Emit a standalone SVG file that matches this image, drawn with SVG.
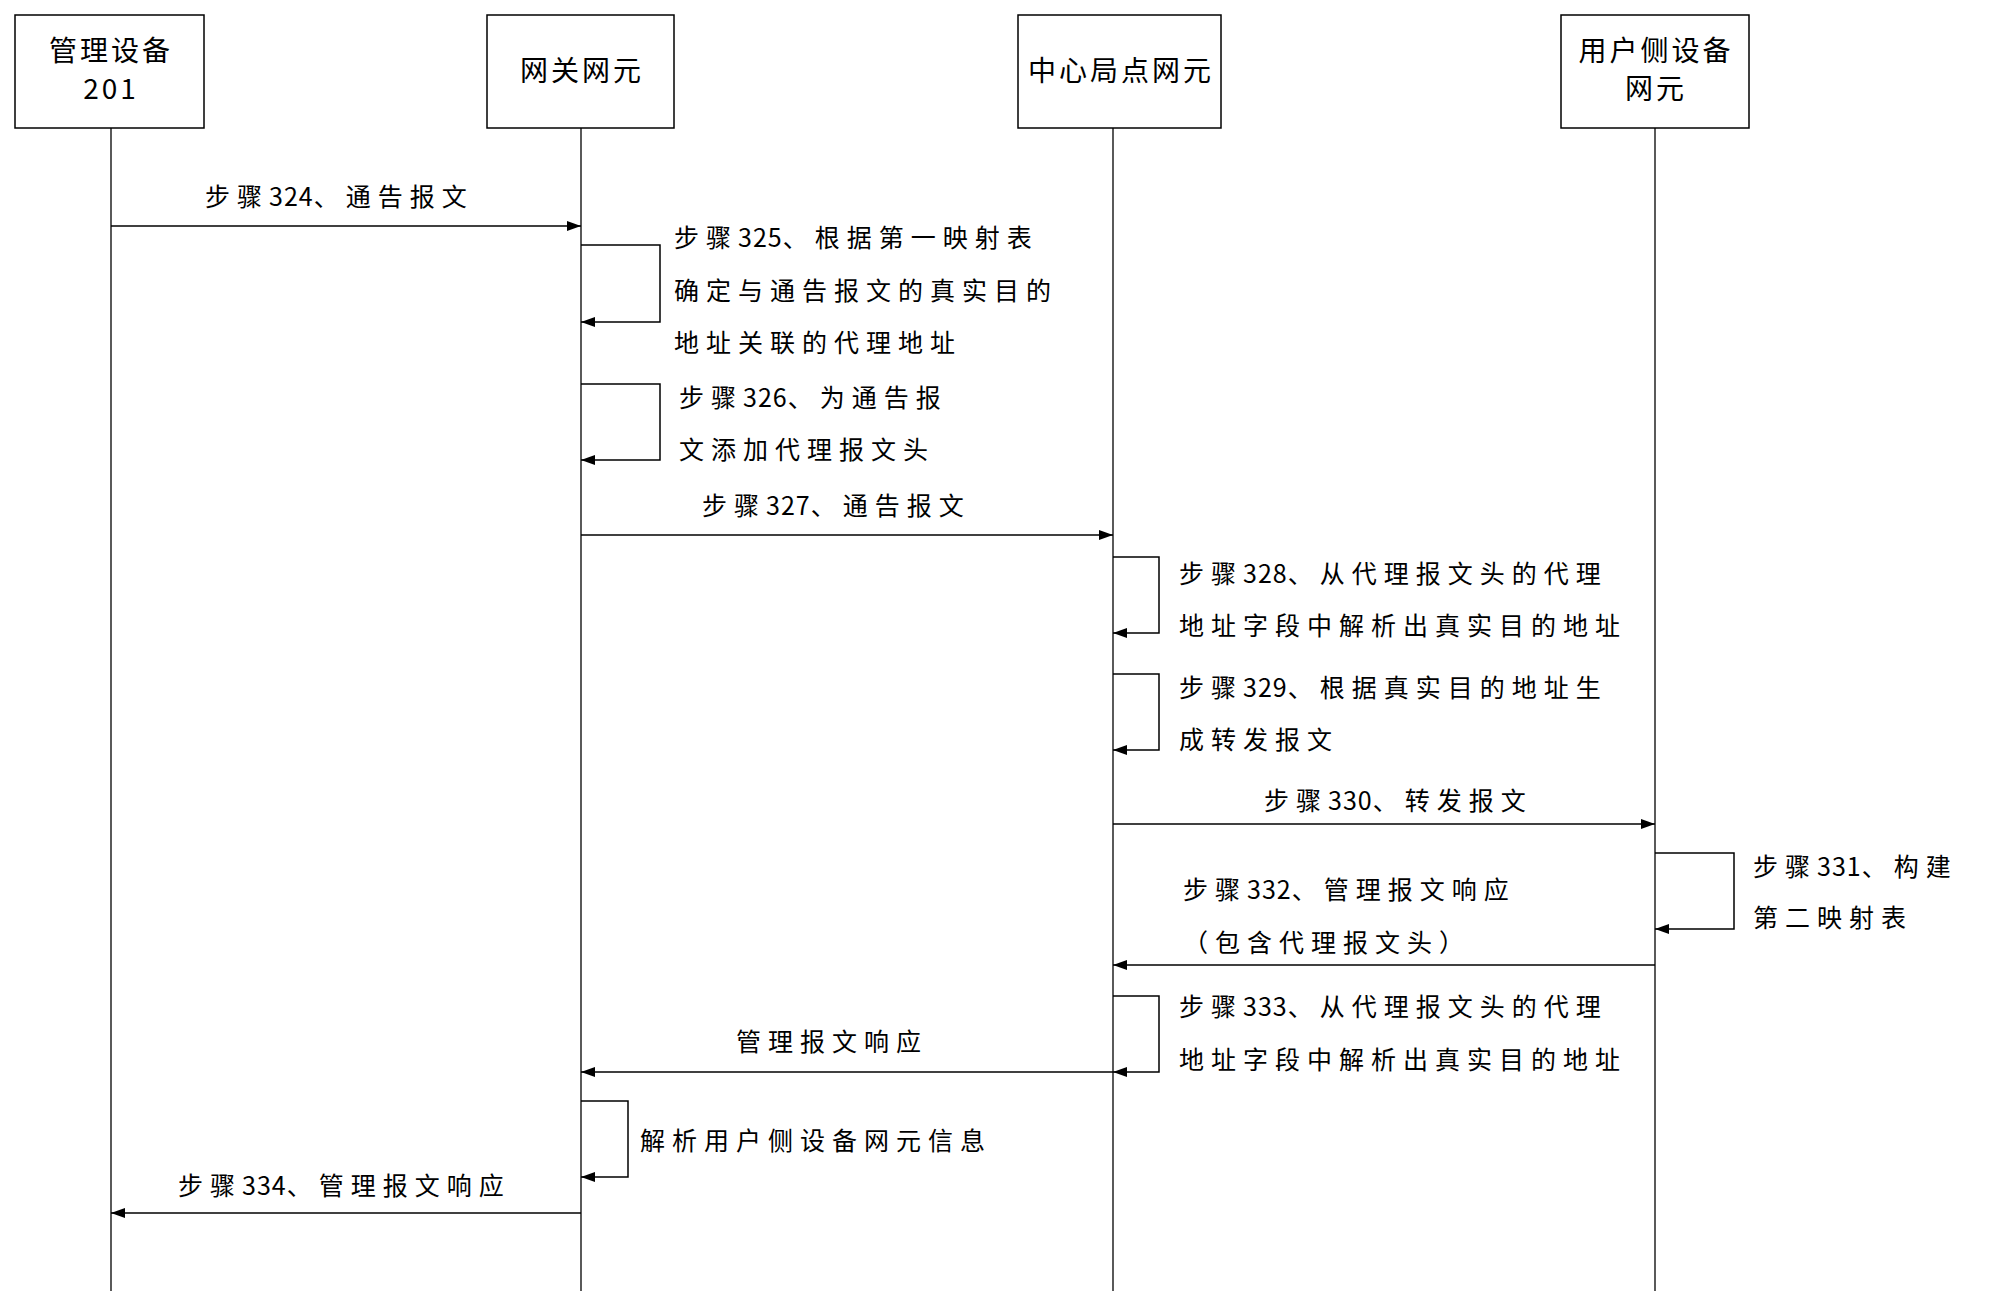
<svg xmlns="http://www.w3.org/2000/svg" width="1995" height="1306" viewBox="0 0 1995 1306">
<defs>
<marker id="ah" markerWidth="14" markerHeight="10" refX="14" refY="5" orient="auto" markerUnits="userSpaceOnUse"><path d="M0,0 L14,5 L0,10 Z" fill="#000"/></marker>
<style>
.box{fill:#fff;stroke:#000;stroke-width:1.5}
.life{stroke:#000;stroke-width:1.3;fill:none}
.msg{stroke:#000;stroke-width:1.5;fill:none;marker-end:url(#ah)}
text{font-family:"Noto Sans CJK SC","Liberation Sans",sans-serif;font-size:25px;fill:#000}
.n{letter-spacing:7px}
.d{letter-spacing:1px}
.b{text-anchor:middle;font-size:28px;letter-spacing:3px}
</style>
</defs>
<rect width="1995" height="1306" fill="#fff"/>
<g id="n1"><rect class="box" x="15" y="15" width="189" height="113"/><text class="b" x="111" y="61">管理设备</text><text class="b" x="111" y="99">201</text></g>
<g id="n2"><rect class="box" x="487" y="15" width="187" height="113"/><text class="b" x="582" y="81">网关网元</text></g>
<g id="n3"><rect class="box" x="1018" y="15" width="203" height="113"/><text class="b" x="1121" y="81">中心局点网元</text></g>
<g id="n4"><rect class="box" x="1561" y="15" width="188" height="113"/><text class="b" x="1656" y="61">用户侧设备</text><text class="b" x="1656" y="99">网元</text></g>
<g id="connectors">
<line class="life" x1="111" y1="128" x2="111" y2="1291"/>
<line class="life" x1="581" y1="128" x2="581" y2="1291"/>
<line class="life" x1="1113" y1="128" x2="1113" y2="1291"/>
<line class="life" x1="1655" y1="128" x2="1655" y2="1291"/>
<line class="msg" x1="111" y1="226" x2="581" y2="226"/>
<path class="msg" d="M581,245 H660 V322 H581"/>
<path class="msg" d="M581,384 H660 V460 H581"/>
<line class="msg" x1="581" y1="535" x2="1113" y2="535"/>
<path class="msg" d="M1113,557 H1159 V633 H1113"/>
<path class="msg" d="M1113,674 H1159 V750 H1113"/>
<line class="msg" x1="1113" y1="824" x2="1655" y2="824"/>
<path class="msg" d="M1655,853 H1734 V929 H1655"/>
<line class="msg" x1="1655" y1="965" x2="1113" y2="965"/>
<path class="msg" d="M1113,996 H1159 V1072 H1113"/>
<line class="msg" x1="1113" y1="1072" x2="581" y2="1072"/>
<path class="msg" d="M581,1101 H628 V1177 H581"/>
<line class="msg" x1="581" y1="1213" x2="111" y2="1213"/>
</g>
<g id="labels">
<text class="n" x="205" y="206">步骤<tspan class="d">324</tspan>、通告报文</text>
<text class="n" x="674" y="247">步骤<tspan class="d">325</tspan>、根据第一映射表</text>
<text class="n" x="674" y="300">确定与通告报文的真实目的</text>
<text class="n" x="674" y="352">地址关联的代理地址</text>
<text class="n" x="679" y="407">步骤<tspan class="d">326</tspan>、为通告报</text>
<text class="n" x="679" y="459">文添加代理报文头</text>
<text class="n" x="702" y="515">步骤<tspan class="d">327</tspan>、通告报文</text>
<text class="n" x="1179" y="583">步骤<tspan class="d">328</tspan>、从代理报文头的代理</text>
<text class="n" x="1179" y="635">地址字段中解析出真实目的地址</text>
<text class="n" x="1179" y="697">步骤<tspan class="d">329</tspan>、根据真实目的地址生</text>
<text class="n" x="1179" y="749">成转发报文</text>
<text class="n" x="1264" y="810">步骤<tspan class="d">330</tspan>、转发报文</text>
<text class="n" x="1753" y="876">步骤<tspan class="d">331</tspan>、构建</text>
<text class="n" x="1753" y="927">第二映射表</text>
<text class="n" x="1183" y="899">步骤<tspan class="d">332</tspan>、管理报文响应</text>
<text class="n" x="1183" y="952">（包含代理报文头）</text>
<text class="n" x="1179" y="1016">步骤<tspan class="d">333</tspan>、从代理报文头的代理</text>
<text class="n" x="1179" y="1069">地址字段中解析出真实目的地址</text>
<text class="n" x="736" y="1051">管理报文响应</text>
<text class="n" x="640" y="1150">解析用户侧设备网元信息</text>
<text class="n" x="178" y="1195">步骤<tspan class="d">334</tspan>、管理报文响应</text>
</g>
</svg>
